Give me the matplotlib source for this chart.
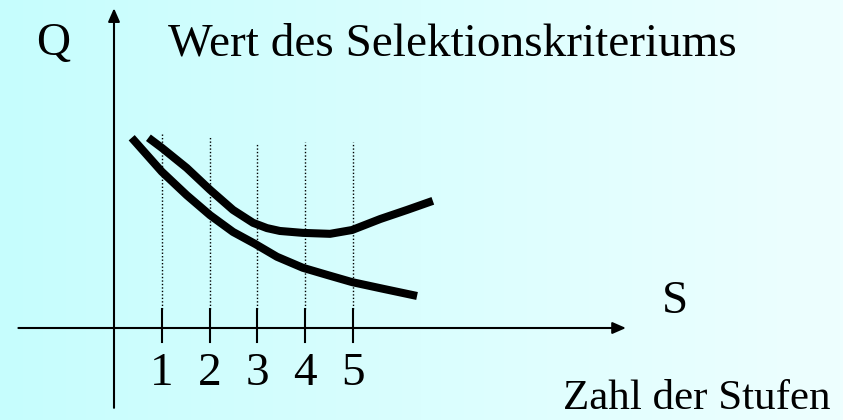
import numpy as np
import matplotlib
matplotlib.use("Agg")
import matplotlib.pyplot as plt

# stages on the S axis
stages = [1, 2, 3, 4, 5]
tick_labels = ['1', '2', '3', '4', '5']
dotted_top = [4.06, 4.0, 3.85, 3.89, 3.89]

# lower curve
low_x = [0.37, 1.0, 1.52, 2.01, 2.49, 2.95, 3.41, 3.95, 4.46, 4.98, 5.63, 6.34]
low_y = [3.98, 3.27, 2.78, 2.36, 2.01, 1.76, 1.49, 1.26, 1.11, 0.96, 0.82, 0.67]

# upper curve (selection criterion)
up_x = [0.72, 1.0, 1.52, 2.01, 2.49, 2.91, 3.20, 3.47, 3.95, 4.52, 4.98, 5.57, 6.13, 6.67]
up_y = [3.98, 3.77, 3.35, 2.89, 2.47, 2.20, 2.09, 2.03, 1.99, 1.97, 2.05, 2.28, 2.47, 2.66]

plt.rcParams['font.family'] = ['Liberation Serif', 'DejaVu Serif']

fig = plt.figure(figsize=(8.43, 4.2), dpi=100)
ax = fig.add_axes([0, 0, 1, 1])
s = 47.8
x0, x1 = -114 / s, (843 - 114) / s
y0, y1 = (328 - 420) / s, 328 / s
ax.set_xlim(x0, x1)
ax.set_ylim(y0, y1)
ax.axis('off')

# background gradient
grad = np.linspace(0, 1, 256)
c0 = np.array([198, 253, 253]) / 255
c1 = np.array([238, 255, 255]) / 255
img = (c0[None, :] * (1 - grad[:, None]) + c1[None, :] * grad[:, None])[None, :, :]
ax.imshow(img, extent=[x0, x1, y0, y1], aspect='auto', zorder=0)

# axes arrows
arrow = dict(arrowstyle='-|>,head_length=0.8,head_width=0.35', color='black', lw=1.5,
             shrinkA=0, shrinkB=0)
ax.annotate('', xy=(10.71, 0), xytext=(-2.0, 0), arrowprops=arrow)
ax.annotate('', xy=(0, 6.69), xytext=(0, -1.67), arrowprops=arrow)

# ticks and dotted guides
for st, top, lab in zip(stages, dotted_top, tick_labels):
    ax.plot([st, st], [-0.29, 0.4], color='black', lw=1.5)
    ax.plot([st, st], [0.4, top], color='black', lw=1.0, linestyle=(0, (1, 1.5)))
    ax.text(st, -1.19, lab, ha='center', va='baseline', fontsize=34)

ax.plot(low_x, low_y, color='black', lw=5.8, solid_capstyle='butt', solid_joinstyle='round')
ax.plot(up_x, up_y, color='black', lw=5.8, solid_capstyle='butt', solid_joinstyle='round')

ax.text(-1.63, 5.71, 'Q', ha='left', va='baseline', fontsize=34)
ax.text(1.13, 5.71, 'Wert des Selektionskriteriums', ha='left', va='baseline', fontsize=34)
ax.text(11.46, 0.31, 'S', ha='left', va='baseline', fontsize=34)
ax.text(14.98, -1.70, 'Zahl der Stufen', ha='right', va='baseline', fontsize=31)

fig.savefig('out.png', dpi=100)
